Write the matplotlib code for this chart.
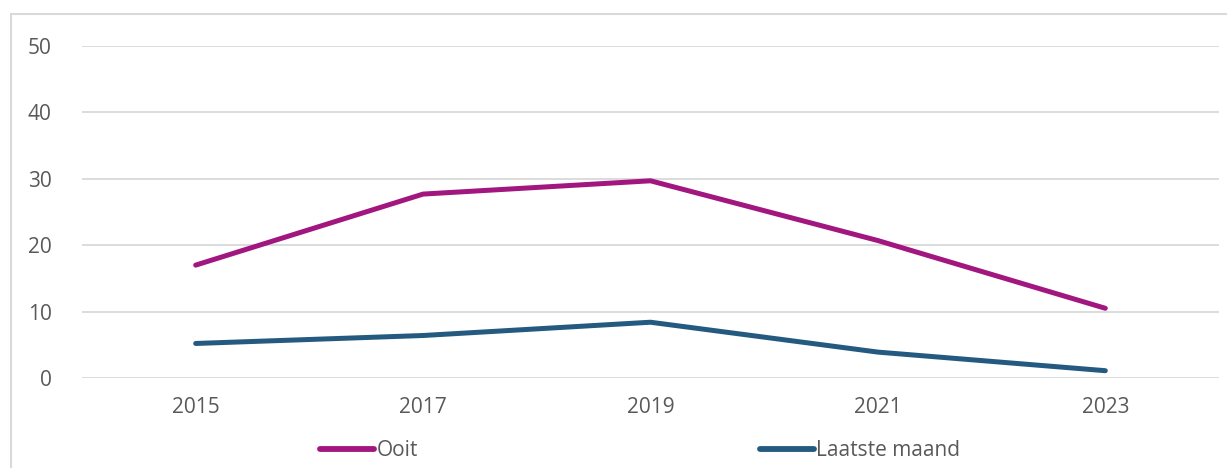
import matplotlib.pyplot as plt
import matplotlib.patches as patches

# data
years = ['2015', '2017', '2019', '2021', '2023']
ooit = [17.0, 27.7, 29.7, 20.7, 10.5]
laatste_maand = [5.2, 6.4, 8.4, 3.9, 1.1]

plt.rcParams['font.family'] = ['Open Sans', 'DejaVu Sans']
text_col = '#595959'

fig = plt.figure(figsize=(12.27, 4.68), dpi=100)
ax = fig.add_axes([82 / 1227, 1 - 378 / 468, (1219 - 82) / 1227, (378 - 46) / 468])

x = range(len(years))
ax.plot(x, ooit, color='#A2177F', lw=3.6, solid_capstyle='round', label='Ooit')
ax.plot(x, laatste_maand, color='#245A80', lw=3.6, solid_capstyle='round', label='Laatste maand')

ax.set_xlim(-0.5, len(years) - 0.5)
ax.set_ylim(0, 50)
ax.set_yticks(range(0, 51, 10))
ax.set_xticks(list(x))
ax.set_xticklabels(years)
ax.yaxis.grid(True, color='#D9D9D9', lw=1.3)
ax.set_axisbelow(True)
for s in ax.spines.values():
    s.set_visible(False)
ax.tick_params(length=0, labelsize=15, labelcolor=text_col)
ax.tick_params(axis='y', pad=22)
ax.tick_params(axis='x', pad=14)

leg = ax.legend(loc='center', bbox_to_anchor=(0.4908, -0.218), ncol=2, frameon=False,
                fontsize=15, labelcolor=text_col, handlelength=2.6, handletextpad=0.1,
                columnspacing=16.4)
for h in leg.legend_handles:
    h.set_linewidth(4.2)

# outer chart border
fig.add_artist(patches.Rectangle((11 / 1227, -0.1), 1.2, 1 - 14 / 468 + 0.1,
                                 transform=fig.transFigure, fill=False,
                                 edgecolor='#D9D9D9', lw=1.5))

fig.savefig('out.png', dpi=100)
